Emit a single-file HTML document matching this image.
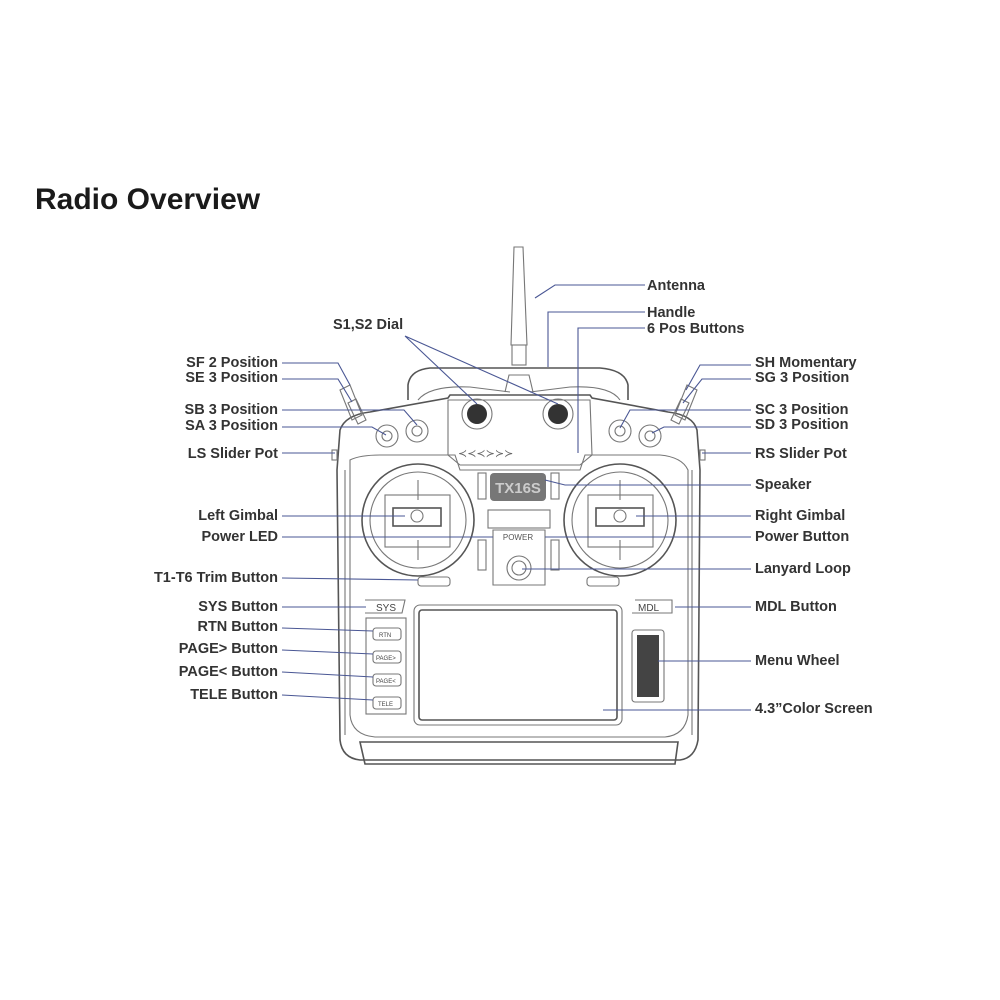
<!DOCTYPE html>
<html><head><meta charset="utf-8"><style>
html,body{margin:0;padding:0;background:#fff;}
svg{display:block;}
text{font-family:"Liberation Sans",sans-serif;}
.l{font-size:14.5px;font-weight:bold;fill:#333;}
.b{stroke:#555;fill:none;stroke-width:1.6;}
.t{stroke:#777;fill:none;stroke-width:1.1;}
.c{stroke:#4a5794;fill:none;stroke-width:1.1;}
</style></head><body>
<svg width="1000" height="1000" viewBox="0 0 1000 1000">
<text x="35" y="209" style="font-size:30px;font-weight:bold;fill:#1a1a1a">Radio Overview</text>

<!-- antenna -->
<path class="t" d="M514,247 L511,345 L527,345 L523,247 Z"/>
<rect class="t" x="512" y="345" width="14" height="20"/>
<path class="t" d="M505,392 L509,375 L529,375 L533,392"/>
<!-- handle -->
<path class="b" d="M408,400 L408,385 Q410,370 430,368 L600,368 Q625,370 628,385 L628,400"/>
<path class="t" d="M418,400 Q430,385 470,387 L510,392 M530,392 L570,387 Q610,385 620,400"/>
<!-- body outline -->
<path class="b" d="M340,430 Q345,415 370,412 L448,398 L450,395 L590,395 L592,398 L668,412 Q693,415 697,430 L700,470 L698,740 Q695,758 680,760 L360,760 Q342,758 340,740 L337,470 Z"/>
<path class="t" d="M345,470 L345,735 M692,470 L692,735"/>
<path class="b" d="M360,742 L678,742 L675,764 L365,764 Z"/>
<!-- inner panel -->
<path class="t" d="M350,460 Q360,455 380,455 L455,455 L460,470 L580,470 L585,455 L660,455 Q682,457 688,470 L688,715 Q685,735 665,737 L375,737 Q352,735 350,715 Z"/>
<!-- top center raised -->
<path class="t" d="M448,400 L590,400 L592,455 L580,465 L460,465 L448,455 Z"/>
<circle class="t" cx="477" cy="414" r="15"/><circle cx="477" cy="414" r="10" fill="#333"/>
<circle class="t" cx="558" cy="414" r="15"/><circle cx="558" cy="414" r="10" fill="#333"/>
<text x="458" y="457" style="font-size:11px;fill:#666">≺≺≺≻≻≻</text>
<!-- switches left -->
<path class="t" d="M340,390 L350,385 L362,415 L352,420 Z M348,403 L356,399 L366,420 L358,424 Z"/>
<circle class="t" cx="387" cy="436" r="11"/><circle class="t" cx="387" cy="436" r="5"/>
<circle class="t" cx="417" cy="431" r="11"/><circle class="t" cx="417" cy="431" r="5"/>
<path class="t" d="M697,390 L687,385 L675,415 L685,420 Z M689,403 L681,399 L671,420 L679,424 Z"/>
<circle class="t" cx="620" cy="431" r="11"/><circle class="t" cx="620" cy="431" r="5"/>
<circle class="t" cx="650" cy="436" r="11"/><circle class="t" cx="650" cy="436" r="5"/>
<rect class="t" x="332" y="450" width="5" height="10"/><rect class="t" x="700" y="450" width="5" height="10"/>
<!-- gimbals -->
<circle class="b" cx="418" cy="520" r="56"/><circle class="t" cx="418" cy="520" r="48"/>
<rect class="t" x="385" y="495" width="65" height="52"/>
<rect class="b" x="393" y="508" width="48" height="18"/><circle class="t" cx="417" cy="516" r="6"/>
<path class="t" d="M418,480 L418,500 M418,540 L418,560"/>
<circle class="b" cx="620" cy="520" r="56"/><circle class="t" cx="620" cy="520" r="48"/>
<rect class="t" x="588" y="495" width="65" height="52"/>
<rect class="b" x="596" y="508" width="48" height="18"/><circle class="t" cx="620" cy="516" r="6"/>
<path class="t" d="M620,480 L620,500 M620,540 L620,560"/>
<!-- center -->
<rect x="490" y="473" width="56" height="28" rx="4" fill="#777"/>
<text x="518" y="493" text-anchor="middle" style="font-size:15px;fill:#ccc;font-weight:bold">TX16S</text>
<rect class="t" x="478" y="473" width="8" height="26"/><rect class="t" x="551" y="473" width="8" height="26"/>
<rect class="t" x="488" y="510" width="62" height="18"/>
<rect class="t" x="478" y="540" width="8" height="30"/><rect class="t" x="551" y="540" width="8" height="30"/>
<path class="t" d="M493,530 L545,530 L545,585 L493,585 Z"/>
<text x="518" y="540" text-anchor="middle" style="font-size:8px;fill:#555">POWER</text>
<circle class="t" cx="519" cy="568" r="12"/><circle class="t" cx="519" cy="568" r="7"/>
<rect class="t" x="418" y="577" width="32" height="9" rx="3"/><rect class="t" x="587" y="577" width="32" height="9" rx="3"/>
<!-- SYS MDL -->
<path class="t" d="M365,600 L405,600 L402,613 L365,613"/>
<text x="376" y="611" style="font-size:10px;fill:#444">SYS</text>
<path class="t" d="M635,600 L672,600 L672,613 L632,613"/>
<text x="638" y="611" style="font-size:10px;fill:#444">MDL</text>
<!-- side buttons -->
<rect class="t" x="366" y="618" width="40" height="96"/>
<g style="font-size:6px;fill:#444">
<rect class="t" x="373" y="628" width="28" height="12" rx="3"/><text x="379" y="637">RTN</text>
<rect class="t" x="373" y="651" width="28" height="12" rx="3"/><text x="376" y="660">PAGE&gt;</text>
<rect class="t" x="373" y="674" width="28" height="12" rx="3"/><text x="376" y="683">PAGE&lt;</text>
<rect class="t" x="373" y="697" width="28" height="12" rx="3"/><text x="378" y="706">TELE</text>
</g>
<!-- screen -->
<rect class="t" x="414" y="605" width="208" height="120" rx="6"/>
<rect class="b" x="419" y="610" width="198" height="110" rx="3"/>
<rect class="t" x="632" y="630" width="32" height="72" rx="3"/>
<rect x="637" y="635" width="22" height="62" fill="#444"/>

<!-- connectors -->
<g class="c">
<path d="M645,285 L555,285 L535,298"/>
<path d="M645,312 L548,312 L548,367"/>
<path d="M645,328 L578,328 L578,453"/>
<path d="M405,336 L477,404 M405,336 L558,404"/>
<path d="M282,363 L338,363 L350,385"/>
<path d="M282,379 L338,379 L352,402"/>
<path d="M282,410 L404,410 L417,425"/>
<path d="M282,427 L372,427 L386,435"/>
<path d="M282,453 L335,453"/>
<path d="M282,516 L405,516"/>
<path d="M282,537 L493,537"/>
<path d="M282,578 L418,580"/>
<path d="M282,607 L366,607"/>
<path d="M282,628 L373,631"/>
<path d="M282,650 L373,654"/>
<path d="M282,672 L373,677"/>
<path d="M282,695 L373,700"/>
<path d="M751,365 L700,365 L686,390"/>
<path d="M751,379 L702,379 L683,403"/>
<path d="M751,410 L630,410 L620,428"/>
<path d="M751,427 L664,427 L652,433"/>
<path d="M751,453 L702,453"/>
<path d="M751,485 L565,485 L545,480"/>
<path d="M751,516 L636,516"/>
<path d="M751,537 L545,537"/>
<path d="M751,569 L522,569"/>
<path d="M751,607 L675,607"/>
<path d="M751,661 L658,661"/>
<path d="M751,710 L603,710"/>
</g>

<!-- labels -->
<g class="l">
<text x="647" y="290">Antenna</text>
<text x="647" y="317">Handle</text>
<text x="647" y="333">6 Pos Buttons</text>
<text x="333" y="329">S1,S2 Dial</text>
<g text-anchor="end">
<text x="278" y="367">SF 2 Position</text>
<text x="278" y="382">SE 3 Position</text>
<text x="278" y="414">SB 3 Position</text>
<text x="278" y="430">SA 3 Position</text>
<text x="278" y="458">LS Slider Pot</text>
<text x="278" y="520">Left Gimbal</text>
<text x="278" y="541">Power LED</text>
<text x="278" y="582">T1-T6 Trim Button</text>
<text x="278" y="611">SYS Button</text>
<text x="278" y="631">RTN Button</text>
<text x="278" y="653">PAGE&gt; Button</text>
<text x="278" y="676">PAGE&lt; Button</text>
<text x="278" y="699">TELE Button</text>
</g>
<text x="755" y="367">SH Momentary</text>
<text x="755" y="382">SG 3 Position</text>
<text x="755" y="414">SC 3 Position</text>
<text x="755" y="429">SD 3 Position</text>
<text x="755" y="458">RS Slider Pot</text>
<text x="755" y="489">Speaker</text>
<text x="755" y="520">Right Gimbal</text>
<text x="755" y="541">Power Button</text>
<text x="755" y="573">Lanyard Loop</text>
<text x="755" y="611">MDL Button</text>
<text x="755" y="665">Menu Wheel</text>
<text x="755" y="713">4.3”Color Screen</text>
</g>
</svg>
</body></html>
